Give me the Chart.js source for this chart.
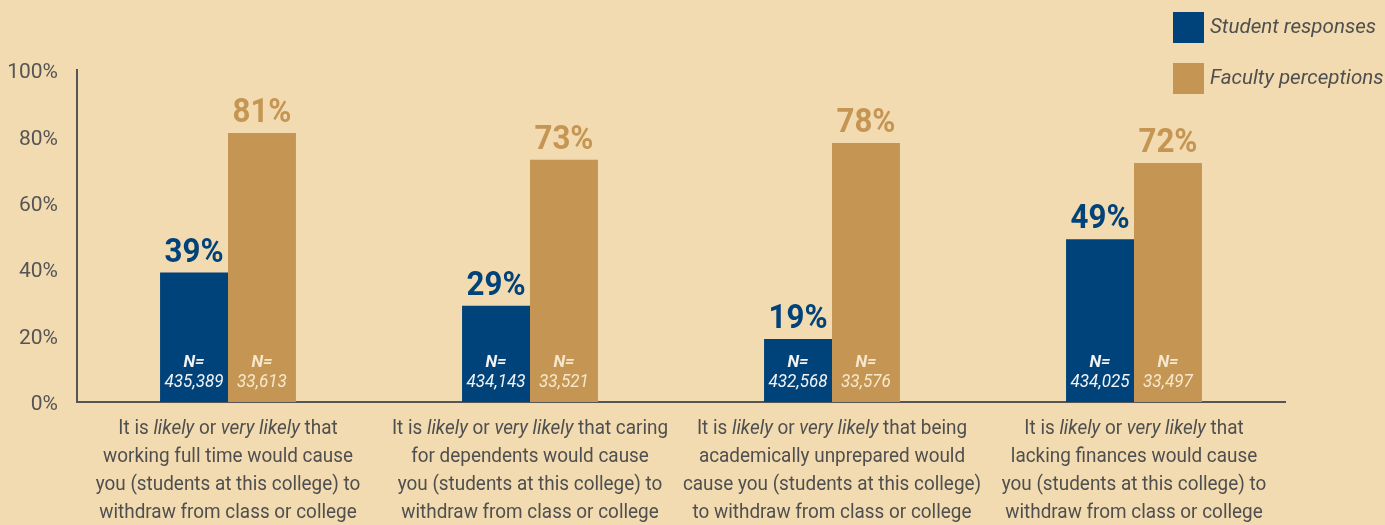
<!DOCTYPE html>
<html>
<head>
<meta charset="utf-8">
<script src="https://cdn.jsdelivr.net/npm/chart.js@4"></script>
<style>
  body { margin: 0; background: #f2dbb0; }
  canvas { display: block; }
</style>
</head>
<body>
<canvas id="chart" width="1385" height="525"></canvas>
<script>
// Data
const categories = ['working full time', 'caring for dependents', 'academically unprepared', 'lacking finances'];
const studentPct = [39, 29, 19, 49];
const facultyPct = [81, 73, 78, 72];
const studentN = ['435,389', '434,143', '432,568', '434,025'];
const facultyN = ['33,613', '33,521', '33,576', '33,497'];
const yTicks = [0, 20, 40, 60, 80, 100];
const seriesNames = ['Student responses', 'Faculty perceptions'];

// Label lines under each group; segments wrapped in * are italic
const categoryLines = [
  ['It is *likely* or *very likely* that', 'working full time would cause', 'you (students at this college) to', 'withdraw from class or college'],
  ['It is *likely* or *very likely* that caring', 'for dependents would cause', 'you (students at this college) to', 'withdraw from class or college'],
  ['It is *likely* or *very likely* that being', 'academically unprepared would', 'cause you (students at this college)', 'to withdraw from class or college'],
  ['It is *likely* or *very likely* that', 'lacking finances would cause', 'you (students at this college) to', 'withdraw from class or college']
];

const NAVY = '#00427a';
const TAN = '#c59553';
const GREY = '#4f4f4f';
const FONT = 'Roboto, "Liberation Sans", sans-serif';
const SQUEEZE = 0.9; // reference font is a condensed face

// draw text squeezed horizontally, left aligned at x
function narrowText(ctx, text, x, y, sx) {
  ctx.save();
  ctx.translate(x, y);
  ctx.scale(sx, 1);
  ctx.fillText(text, 0, 0);
  ctx.restore();
}

// draws value labels, N= labels, category labels and legend
const annotations = {
  id: 'annotations',
  afterDatasetsDraw(chart) {
    const ctx = chart.ctx;
    const base = chart.scales.y.getPixelForValue(0);
    ctx.save();
    ctx.textAlign = 'center';
    chart.data.datasets.forEach((ds, di) => {
      const meta = chart.getDatasetMeta(di);
      const nums = di === 0 ? studentN : facultyN;
      meta.data.forEach((bar, i) => {
        // percent above bar
        ctx.fillStyle = di === 0 ? NAVY : TAN;
        ctx.font = 'bold 34px ' + FONT;
        ctx.textBaseline = 'alphabetic';
        narrowText(ctx, ds.data[i] + '%', bar.x, bar.y - 11, 0.92);
        // N= inside bar
        ctx.fillStyle = di === 0 ? '#f2f2f2' : '#f6e8cc';
        ctx.textBaseline = 'middle';
        ctx.font = 'italic bold 17px ' + FONT;
        ctx.fillText('N=', bar.x, base - 39);
        ctx.font = 'italic 18px ' + FONT;
        narrowText(ctx, nums[i], bar.x, base - 20, 0.95);
      });
    });
    ctx.restore();
  },
  afterDraw(chart) {
    const ctx = chart.ctx;
    const xScale = chart.scales.x;
    ctx.save();
    ctx.fillStyle = GREY;
    ctx.textBaseline = 'middle';
    ctx.textAlign = 'left';
    // category labels with mixed italic
    categoryLines.forEach((lines, i) => {
      const cx = xScale.getPixelForValue(i);
      lines.forEach((line, li) => {
        const parts = line.split('*').map((t, k) => ({ text: t, italic: k % 2 === 1 }));
        let total = 0;
        parts.forEach(p => {
          ctx.font = (p.italic ? 'italic ' : '') + '21px ' + FONT;
          p.w = ctx.measureText(p.text).width * SQUEEZE;
          total += p.w;
        });
        let x = cx - total / 2;
        const y = 429 + li * 28;
        parts.forEach(p => {
          ctx.font = (p.italic ? 'italic ' : '') + '21px ' + FONT;
          narrowText(ctx, p.text, x, y, SQUEEZE);
          x += p.w;
        });
      });
    });
    // legend
    [NAVY, TAN].forEach((c, i) => {
      const y = 12 + i * 51;
      ctx.fillStyle = c;
      ctx.fillRect(1173, y, 31, 31);
      ctx.fillStyle = GREY;
      ctx.font = 'italic 21px ' + FONT;
      narrowText(ctx, seriesNames[i], 1210, y + 16, 0.98);
    });
    ctx.restore();
  }
};

const chart = new Chart(document.getElementById('chart'), {
  type: 'bar',
  data: {
    labels: categories,
    datasets: [{
      label: seriesNames[0],
      data: studentPct,
      backgroundColor: NAVY
    }, {
      label: seriesNames[1],
      data: facultyPct,
      backgroundColor: TAN
    }]
  },
  options: {
    responsive: false,
    animation: false,
    layout: { padding: { top: 70, right: 100, left: 0, bottom: 0 } },
    categoryPercentage: 0.45,
    barPercentage: 1,
    plugins: {
      legend: { display: false },
      tooltip: { enabled: false }
    },
    scales: {
      x: {
        grid: { display: false },
        border: { display: true, color: '#555', width: 2 },
        ticks: { display: false },
        afterFit: (scale) => { scale.height = 123; }
      },
      y: {
        min: 0,
        max: 100,
        afterBuildTicks: (scale) => { scale.ticks = yTicks.map(v => ({ value: v })); },
        grid: { display: false },
        border: { display: true, color: '#555', width: 2 },
        ticks: {
          color: '#555',
          padding: 11,
          labelOffset: 3,
          font: { family: FONT, size: 21 },
          callback: (v) => v + '%'
        },
        afterFit: (scale) => { scale.width = 77; }
      }
    }
  },
  plugins: [annotations]
});
</script>
</body>
</html>
